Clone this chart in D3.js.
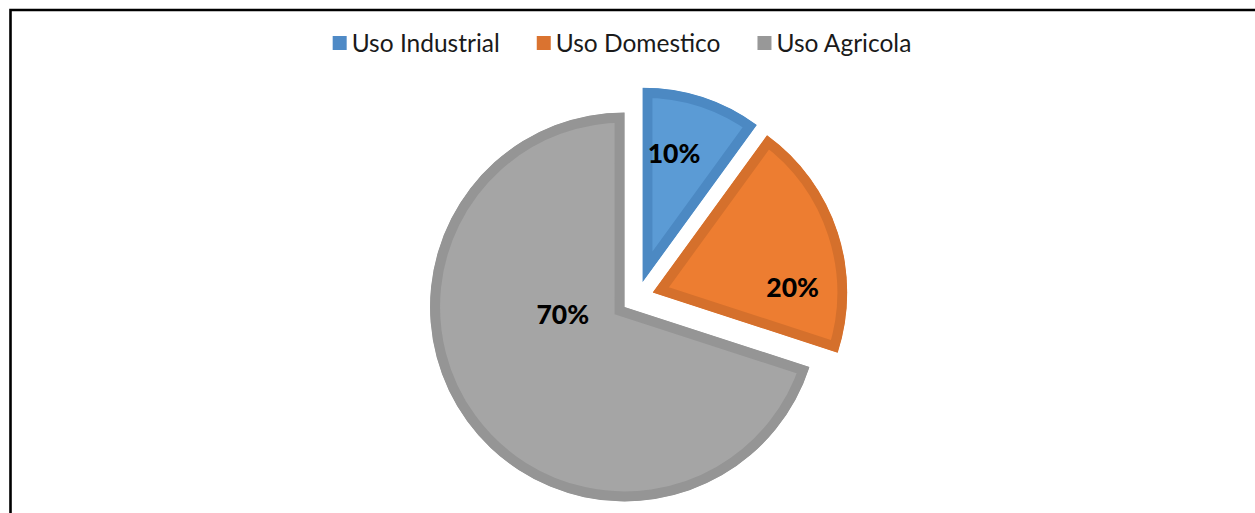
<!DOCTYPE html>
<html>
<head>
<meta charset="utf-8">
<script src="https://cdn.jsdelivr.net/npm/d3@7"></script>
<style>
  html, body { margin: 0; padding: 0; background: #fff; }
  svg { display: block; }
</style>
</head>
<body>
<svg id="chart" width="1255" height="513"></svg>
<script>
// ---- data ----
const categories = ["Uso Industrial", "Uso Domestico", "Uso Agricola"];
const values = [10, 20, 70];
const labels = ["10%", "20%", "70%"];

// ---- styles ----
const fills = ["#5B9BD5", "#ED7D31", "#A5A5A5"];
const strokes = ["#4C89C3", "#D5702C", "#959595"];
const legendColors = ["#4F8AC6", "#DA7330", "#989898"];
// label placement: [angle (deg, clockwise from top), distance as fraction of radius]
const labelPlace = [[13.8, 0.68], [88, 0.72], [263, 0.32]];

const W = 1255, H = 513;
const svg = d3.select("#chart");

// frame
svg.append("path")
  .attr("d", `M10.5,${H + 5} L10.5,10 L${W + 5},10`)
  .attr("fill", "none").attr("stroke", "#000").attr("stroke-width", 2.6);

const cx = 637.5, cy = 297.5, R = 194.5, explode = 16;

const pie = d3.pie().value(d => d).sort(null);
const arcs = pie(values);
const arc = d3.arc().innerRadius(0).outerRadius(R);

const defs = svg.append("defs");
const gPie = svg.append("g").attr("transform", `translate(${cx},${cy})`);

arcs.forEach((a, i) => {
  const mid = (a.startAngle + a.endAngle) / 2;
  const ox = explode * Math.sin(mid), oy = -explode * Math.cos(mid);
  const d = arc(a);
  defs.append("clipPath").attr("id", "clip" + i)
    .append("path").attr("d", d);
  const g = gPie.append("g").attr("transform", `translate(${ox},${oy})`);
  g.append("path")
    .attr("d", d)
    .attr("fill", fills[i])
    .attr("stroke", strokes[i])
    .attr("stroke-width", 20)
    .attr("stroke-linejoin", "miter")
    .attr("clip-path", `url(#clip${i})`);
  const [ang, frac] = labelPlace[i];
  const rad = ang * Math.PI / 180;
  g.append("text")
    .attr("x", frac * R * Math.sin(rad))
    .attr("y", -frac * R * Math.cos(rad))
    .attr("dy", "0.36em")
    .attr("text-anchor", "middle")
    .attr("font-family", "Lato, 'Open Sans', sans-serif")
    .attr("font-weight", "900")
    .attr("font-size", 26.5)
    .attr("fill", "#000")
    .text(labels[i]);
});

// legend
const legend = svg.append("g");
const items = legend.selectAll("g").data(categories).join("g");
items.append("rect")
  .attr("width", 14).attr("height", 14)
  .attr("y", 36)
  .attr("fill", (d, i) => legendColors[i]);
const texts = items.append("text")
  .attr("x", 19).attr("y", 52)
  .attr("font-family", "Lato, 'Open Sans', sans-serif")
  .attr("font-size", 24.5)
  .attr("fill", "#1a1a1a")
  .text(d => d);
let x = 0;
const gap = 37;
const widths = [];
texts.each(function () { widths.push(this.getComputedTextLength()); });
items.each(function (d, i) {
  d3.select(this).attr("transform", `translate(${x},0)`);
  x += 19 + widths[i] + gap;
});
const total = x - gap;
legend.attr("transform", `translate(${622 - total / 2},0)`);
</script>
</body>
</html>
